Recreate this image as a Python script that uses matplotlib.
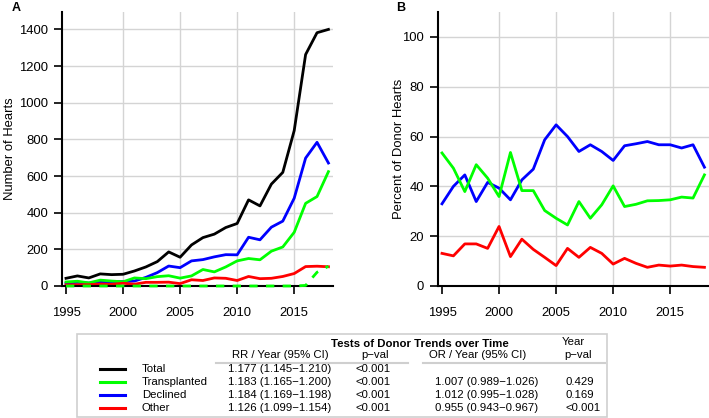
import numpy as np
import matplotlib
matplotlib.use("Agg")
import matplotlib.pyplot as plt
from matplotlib.patches import Rectangle
from matplotlib.lines import Line2D

plt.rcParams['font.family'] = ['Liberation Sans', 'DejaVu Sans']

years = np.arange(1995, 2019)

# panel A: number of hearts
total = [42, 55, 44, 66, 62, 64, 82, 104, 133, 186, 157, 224, 264, 283, 319, 341,
         470, 437, 556, 620, 848, 1263, 1382, 1400]
transplanted = [22, 26, 17, 32, 27, 23, 44, 40, 51, 56, 43, 55, 90, 77, 104, 137,
                150, 143, 190, 213, 293, 451, 488, 624]
declined = [15, 20, 16, 22, 24, 24, 27, 47, 73, 109, 100, 137, 144, 159, 171, 170,
            266, 252, 321, 354, 479, 698, 784, 671]
other = [6, 7, 7, 11, 9, 15, 10, 20, 20, 21, 13, 34, 30, 44, 42, 30,
         52, 40, 42, 52, 68, 106, 108, 105]
transplanted_dashed = [0, 0, 0, 0, 0, 0, 0, 0, 0, 0, 0, 0, 0, 0, 0, 0,
                       0, 0, 0, 0, 0, 3, 75, 108]

# panel B: percent of donor hearts
pct_transplanted = [53.4, 47.3, 37.9, 48.7, 43.3, 35.9, 53.6, 38.3, 38.3, 30.3, 27.2, 24.5,
                    33.9, 27.2, 32.6, 40.2, 31.9, 32.8, 34.2, 34.3, 34.6, 35.7, 35.3, 44.6]
pct_declined = [33.0, 40.0, 44.6, 33.9, 41.6, 39.3, 34.6, 42.6, 46.9, 58.7, 64.7, 60.0,
                54.0, 56.7, 54.0, 50.4, 56.3, 57.1, 58.0, 56.7, 56.7, 55.4, 56.7, 47.7]
pct_other = [13.1, 12.1, 16.9, 16.9, 15.1, 23.9, 11.8, 18.8, 14.7, 11.5, 8.2, 15.1,
             11.5, 15.5, 13.1, 8.8, 11.1, 9.1, 7.5, 8.4, 8.0, 8.4, 7.8, 7.5]

# table
groups = ["Total", "Transplanted", "Declined", "Other"]
group_colors = ["black", "#00ff00", "#0000ff", "#ff0000"]
rr_ci = ["1.177 (1.145\u22121.210)", "1.183 (1.165\u22121.200)",
         "1.184 (1.169\u22121.198)", "1.126 (1.099\u22121.154)"]
rr_p = ["<0.001", "<0.001", "<0.001", "<0.001"]
or_ci = ["", "1.007 (0.989\u22121.026)", "1.012 (0.995\u22121.028)", "0.955 (0.943\u22120.967)"]
or_p = ["", "0.429", "0.169", "<0.001"]

GRID = "#d4d4d4"
LW = 2.0
FS = 9.4
W, H = 709, 418


def style_axes(ax, ylim, yticks):
    ax.set_xlim(1994.65, 2018.4)
    ax.set_ylim(*ylim)
    ax.set_xticks([1995, 2000, 2005, 2010, 2015])
    ax.set_yticks(yticks)
    for x in [2000, 2005, 2010, 2015]:
        ax.axvline(x, color=GRID, lw=1.0, zorder=0)
    for y in yticks[1:]:
        ax.axhline(y, color=GRID, lw=1.0, zorder=0)
    ax.spines["top"].set_visible(False)
    ax.spines["right"].set_visible(False)
    ax.spines["left"].set_linewidth(1.5)
    ax.spines["bottom"].set_linewidth(1.5)
    ax.tick_params(axis="x", length=6, width=1.2, pad=9, labelsize=FS)
    ax.tick_params(axis="y", length=6, width=1.2, pad=4, labelsize=FS)


fig = plt.figure(figsize=(7.09, 4.18), dpi=100)

axA = fig.add_axes([62 / W, 1 - 286 / H, 271 / W, 274 / H])
style_axes(axA, (0, 1495), [0, 200, 400, 600, 800, 1000, 1200, 1400])
axA.plot(years, total, color="black", lw=LW, clip_on=False)
axA.plot(years, declined, color="#0000ff", lw=LW, clip_on=False)
axA.plot(years, transplanted, color="#00ff00", lw=LW, clip_on=False)
axA.plot(years, other, color="#ff0000", lw=LW, clip_on=False)
axA.plot(years, transplanted_dashed, color="#00ff00", lw=LW, ls=(0, (3, 3)),
         clip_on=False, zorder=3)
axA.set_ylabel("Number of Hearts", fontsize=FS, labelpad=2)
fig.text(12 / W, 1 - 8 / H, "A", fontsize=9, fontweight="bold", va="center", ha="left")

axB = fig.add_axes([438 / W, 1 - 286 / H, 271 / W, 274 / H])
style_axes(axB, (0, 110), [0, 20, 40, 60, 80, 100])
axB.plot(years, pct_declined, color="#0000ff", lw=LW)
axB.plot(years, pct_transplanted, color="#00ff00", lw=LW)
axB.plot(years, pct_other, color="#ff0000", lw=LW)
axB.set_ylabel("Percent of Donor Hearts", fontsize=FS, labelpad=-2)
fig.text(396 / W, 1 - 8 / H, "B", fontsize=9, fontweight="bold", va="center", ha="left")

# table of trend tests
TFS = 8.2


def fx(x):
    return x / W


def fy(y):
    return 1 - y / H


fig.patches.append(Rectangle((fx(77), fy(417)), fx(607) - fx(77), fy(334) - fy(417),
                             transform=fig.transFigure, fill=False,
                             edgecolor="#cfcfcf", lw=1.2))
fig.text(fx(420), fy(344), "Tests of Donor Trends over Time", fontsize=TFS,
         fontweight="bold", ha="center", va="center")
fig.text(fx(573), fy(342), "Year", fontsize=TFS, ha="center", va="center")
fig.text(fx(280), fy(355), "RR / Year (95% CI)", fontsize=TFS, ha="center", va="center")
fig.text(fx(375), fy(355), "p\u2212val", fontsize=TFS, ha="center", va="center")
fig.text(fx(478), fy(355), "OR / Year (95% CI)", fontsize=TFS, ha="center", va="center")
fig.text(fx(578), fy(355), "p\u2212val", fontsize=TFS, ha="center", va="center")
fig.add_artist(Line2D([fx(216), fx(408)], [fy(363), fy(363)], color="#cfcfcf", lw=1.5))
fig.add_artist(Line2D([fx(423), fx(605)], [fy(363), fy(363)], color="#cfcfcf", lw=1.5))

row_y = [369, 382, 395, 408]
for i, g in enumerate(groups):
    y = fy(row_y[i])
    fig.add_artist(Line2D([fx(100), fx(125)], [y, y], color=group_colors[i], lw=2.2))
    fig.text(fx(142), y, g, fontsize=TFS, ha="left", va="center")
    fig.text(fx(228), y, rr_ci[i], fontsize=TFS, ha="left", va="center")
    fig.text(fx(355), y, rr_p[i], fontsize=TFS, ha="left", va="center")
    fig.text(fx(435), y, or_ci[i], fontsize=TFS, ha="left", va="center")
    fig.text(fx(565), y, or_p[i], fontsize=TFS, ha="left", va="center")

fig.savefig("out.png", dpi=100)
